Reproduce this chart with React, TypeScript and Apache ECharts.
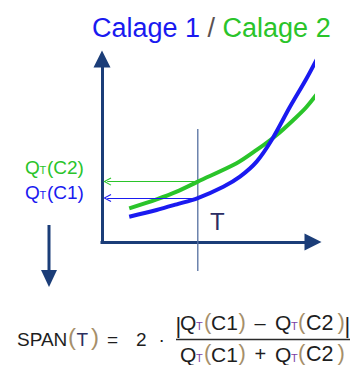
import React, { useEffect, useRef } from "react";
import * as echarts from "echarts";

// ---- data (abstract units: x = return period, y = quantile) ----
const calage1: number[][] = [
  [1.29, 1.38], [2.59, 1.75], [3.54, 2.06], [4.54, 2.4], [5.75, 3.02],
  [6.54, 3.57], [7.33, 4.39], [8.04, 5.57], [8.91, 7.39], [9.7, 8.95],
  [10.41, 10.49],
];
const calage2: number[][] = [
  [1.29, 1.84], [2.59, 2.33], [3.54, 2.75], [4.54, 3.3], [6.38, 4.3],
  [7.33, 5.03], [8.28, 5.85], [9.07, 6.67], [9.7, 7.39], [10.81, 9.03],
];
const periodT = 4.54;
const qtC1 = 2.4;
const qtC2 = 3.3;
const tLineRange = [-1.58, 6.17];
const arrowEndX = 0.25;
const seriesNames = ["Calage 1", "Calage 2"];
const labelC1 = ["Q", "T", "(C1)"];
const labelC2 = ["Q", "T", "(C2)"];

const FONT = '"Liberation Sans", Arial, Helvetica, sans-serif';
const NAVY = "#1b3d78";
const BLUE = "#1a1af0";
const GREEN = "#2ac42a";
const DARK = "#1e1e1e";
const TAN = "#a68f6a";
const PURPLE = "#7b3fa5";
const CHEVRON = "path://M5,0 L10,9 L8.8,9.6 L5,2.6 L1.2,9.6 L0,9 Z";

type Piece = { t: string; x: number; y: number; s: number; c: string };

function fracRow(y: number, op: string): Piece[] {
  const py = y - 1.5;
  const sy = y + 3.8;
  return [
    { t: "Q", x: 180, y, s: 21, c: DARK },
    { t: "T", x: 196, y: sy, s: 11, c: PURPLE },
    { t: "(", x: 204, y: py, s: 22, c: TAN },
    { t: "C1", x: 211, y, s: 21, c: DARK },
    { t: ")", x: 238.5, y: py, s: 22, c: TAN },
    { t: op, x: 254.5, y, s: 20, c: DARK },
    { t: "Q", x: 275, y, s: 21, c: DARK },
    { t: "T", x: 291, y: sy, s: 11, c: PURPLE },
    { t: "(", x: 298, y: py, s: 22, c: TAN },
    { t: "C2", x: 306, y, s: 21.5, c: DARK },
    { t: ")", x: 337.5, y: py, s: 22, c: TAN },
  ];
}

function labelRow(parts: string[], y: number, color: string): Piece[] {
  return [
    { t: parts[0], x: 25, y, s: 19, c: color },
    { t: parts[1], x: 39.5, y: y + 3, s: 11, c: color },
    { t: parts[2], x: 47, y, s: 19, c: color },
  ];
}

const formulaPieces: Piece[] = [
  { t: "SPAN", x: 17, y: 339, s: 19, c: DARK },
  { t: "(", x: 68, y: 336.5, s: 24, c: TAN },
  { t: "T", x: 76.5, y: 339, s: 19, c: "#2c3060" },
  { t: ")", x: 91, y: 336.5, s: 24, c: TAN },
  { t: "=", x: 107, y: 339, s: 19, c: DARK },
  { t: "2", x: 136, y: 339, s: 19, c: DARK },
  { t: "·", x: 158.5, y: 339, s: 19, c: DARK },
  { t: "|", x: 175.5, y: 325.5, s: 22, c: DARK },
  ...fracRow(322.5, "–"),
  { t: "|", x: 344.5, y: 325.5, s: 22, c: DARK },
  ...fracRow(354, "+"),
];

const labelPieces: Piece[] = [
  ...labelRow(labelC2, 167, GREEN),
  ...labelRow(labelC1, 192, BLUE),
];

export default function App() {
  const ref = useRef<HTMLDivElement>(null);
  useEffect(() => {
    const chart = echarts.init(ref.current!, null, { renderer: "svg" });
    const axisCommon = {
      type: "value" as const,
      min: 0,
      max: 10,
      axisTick: { show: false },
      axisLabel: { show: false },
      splitLine: { show: false },
      axisLine: {
        show: true,
        symbol: ["none", "triangle"],
        symbolSize: [17, 17],
        lineStyle: { color: NAVY, width: 3, cap: "square" },
      },
    };
    const textEls: any[] = [...labelPieces, ...formulaPieces].map((p) => ({
      type: "text",
      x: p.x,
      y: p.y,
      silent: true,
      style: {
        text: p.t,
        fontFamily: FONT,
        fontSize: p.s,
        fill: p.c,
        align: "left",
        verticalAlign: "middle",
      },
    }));
    const arrowMark = (color: string, y: number) => ({
      silent: true,
      animation: false,
      symbol: ["none", CHEVRON],
      symbolSize: [8, 8],
      label: { show: false },
      emphasis: { disabled: true },
      lineStyle: { color, width: 1, type: "solid" },
      data: [[{ coord: [periodT, y] }, { coord: [arrowEndX, y] }]],
    });
    chart.setOption({
      animation: false,
      backgroundColor: "#ffffff",
      textStyle: { fontFamily: FONT },
      grid: { left: 102, right: 51, top: 59, bottom: 123, containLabel: false },
      xAxis: axisCommon,
      yAxis: axisCommon,
      series: [
        {
          type: "line",
          name: "T",
          data: [[periodT, tLineRange[1]], [periodT, tLineRange[0]]],
          symbol: "none",
          clip: false,
          z: 1,
          lineStyle: { color: "#5570a0", width: 1.3 },
          emphasis: { disabled: true },
          silent: true,
        },
        {
          type: "line",
          name: seriesNames[0],
          data: calage1,
          smooth: 0.3,
          symbol: "none",
          clip: false,
          z: 3,
          lineStyle: { color: BLUE, width: 4 },
          emphasis: { disabled: true },
          markLine: arrowMark(BLUE, qtC1),
        },
        {
          type: "line",
          name: seriesNames[1],
          data: calage2,
          smooth: 0.3,
          symbol: "none",
          clip: false,
          z: 2,
          lineStyle: { color: GREEN, width: 4 },
          emphasis: { disabled: true },
          markLine: arrowMark(GREEN, qtC2),
        },
      ],
      graphic: [
        {
          type: "text",
          x: 92,
          y: 28,
          silent: true,
          style: {
            text: `{b|${seriesNames[0]}}{s| / }{g|${seriesNames[1]}}`,
            align: "left",
            verticalAlign: "middle",
            rich: {
              b: { fontFamily: FONT, fontSize: 27, fill: BLUE },
              s: { fontFamily: FONT, fontSize: 27, fill: "#5b5252" },
              g: { fontFamily: FONT, fontSize: 27, fill: GREEN },
            },
          },
        },
        {
          type: "text",
          x: 210,
          y: 221.5,
          silent: true,
          style: {
            text: "T",
            fontFamily: FONT,
            fontSize: 24,
            fill: "#2b2d63",
            align: "left",
            verticalAlign: "middle",
          },
        },
        {
          type: "line",
          silent: true,
          shape: { x1: 49, y1: 225, x2: 49, y2: 272 },
          style: { stroke: NAVY, lineWidth: 3 },
        },
        {
          type: "polygon",
          silent: true,
          shape: { points: [[41, 270], [57, 270], [49, 287]] },
          style: { fill: NAVY },
        },
        {
          type: "line",
          silent: true,
          shape: { x1: 176, y1: 339.5, x2: 350, y2: 339.5 },
          style: { stroke: "#2a2a2a", lineWidth: 1.5 },
        },
        ...textEls,
      ],
    });
    return () => chart.dispose();
  }, []);
  return (
    <div
      ref={ref}
      style={{ position: "absolute", left: 0, top: 0, width: 364, height: 365, background: "#fff" }}
    />
  );
}
